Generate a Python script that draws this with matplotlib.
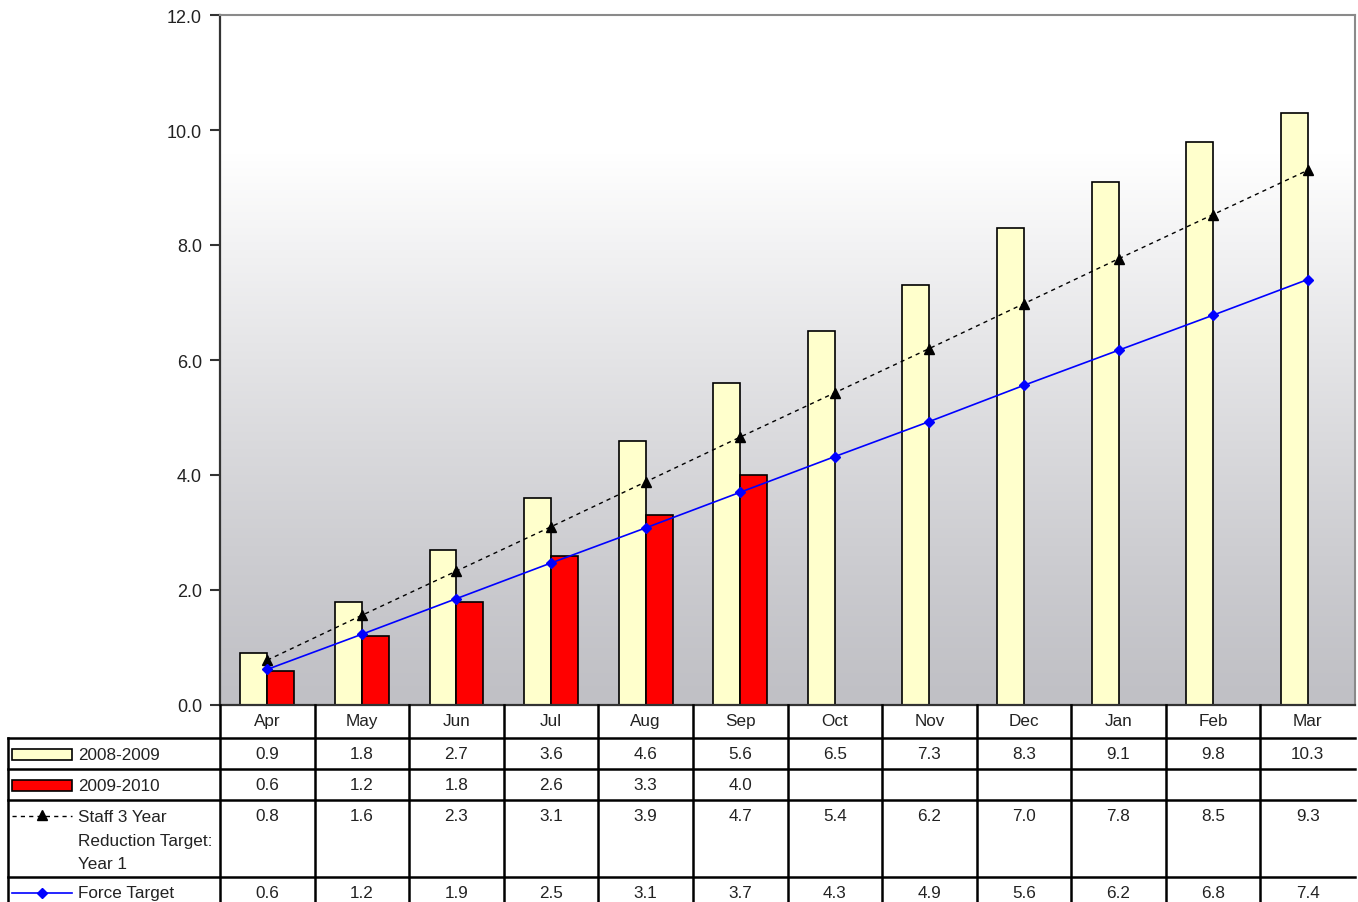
import numpy as np
import matplotlib
matplotlib.use("Agg")
import matplotlib.pyplot as plt
import matplotlib.transforms as mtransforms
from matplotlib.patches import Rectangle

plt.rcParams['font.family'] = ['Liberation Sans', 'DejaVu Sans']

# data
months = ["Apr", "May", "Jun", "Jul", "Aug", "Sep", "Oct", "Nov", "Dec", "Jan", "Feb", "Mar"]
y0809 = [0.9, 1.8, 2.7, 3.6, 4.6, 5.6, 6.5, 7.3, 8.3, 9.1, 9.8, 10.3]
y0910 = [0.6, 1.2, 1.8, 2.6, 3.3, 4.0]
staff = [0.78, 1.56, 2.33, 3.1, 3.88, 4.66, 5.43, 6.2, 6.98, 7.76, 8.53, 9.3]
force = [0.62, 1.23, 1.85, 2.47, 3.08, 3.7, 4.32, 4.93, 5.56, 6.17, 6.78, 7.4]

W, H = 1358, 903
fig = plt.figure(figsize=(W / 100, H / 100), dpi=100)
fig.patch.set_facecolor("white")

# plot area in pixels: x 220..1355, y 16..706
ax = fig.add_axes([220 / W, 1 - 706 / H, 1135 / W, 690 / H])
x = np.arange(len(months))
bw = 0.285

# gradient background (grey at bottom -> white near top)
t = np.linspace(0, 1, 256).reshape(-1, 1)
grad = np.clip(t / 0.8, 0, 1) ** 1.2
top = np.array([1.0, 1.0, 1.0])
bot = np.array([192, 192, 197]) / 255
img = bot + (top - bot) * grad[:, :, None]
ax.imshow(img, extent=(-0.5, 11.5, 0, 12), origin="lower", aspect="auto", zorder=0)
ax.set_xlim(-0.5, 11.5)
ax.set_ylim(0, 12)

ax.bar(x - bw / 2, y0809, bw, color="#FFFFCC", edgecolor="black", linewidth=1.2, zorder=2)
ax.bar(x[:len(y0910)] + bw / 2, y0910, bw, color="#FF0000", edgecolor="black", linewidth=1.2, zorder=2)
ax.plot(x, staff, color="black", linestyle=(0, (3, 3)), linewidth=1, marker="^",
        markersize=7, zorder=3)
ax.plot(x, force, color="#0000FF", linewidth=1.2, marker="D", markersize=5, zorder=4)

ax.set_yticks(np.arange(0, 12.1, 2))
ax.set_yticklabels(["%.1f" % v for v in np.arange(0, 12.1, 2)], fontsize=13, color="#222222")
ax.set_xticks([])
ax.tick_params(axis="y", direction="out", length=7, width=1.5, color="#333333", pad=6)
for s in ["left", "bottom"]:
    ax.spines[s].set_color("#333333")
    ax.spines[s].set_linewidth(1.6)
for s in ["top", "right"]:
    ax.spines[s].set_color("#8a8a8a")
    ax.spines[s].set_linewidth(1.5)

# data table below the plot, y in pixel rows
tab = fig.add_axes([0, 0, 1, 1 - 706 / H])
tab.set_xlim(0, W)
tab.set_ylim(H, 706)
tab.axis("off")
trans = mtransforms.blended_transform_factory(ax.transData, tab.transData)

lc = "black"
lw = 1.8
# horizontal row lines
for yy in [739, 770, 801, 878]:
    tab.plot([8, 1355], [yy, yy], color=lc, lw=lw, clip_on=False)
# vertical lines
tab.plot([8, 8], [739, 903], color=lc, lw=lw, clip_on=False)
for i in range(12):
    tab.plot([i - 0.5, i - 0.5], [706, 903], color=lc, lw=lw, transform=trans, clip_on=False)

fs = 12.3
tc = "#222222"
for i, m in enumerate(months):
    tab.text(i, 722, m, ha="center", va="center", fontsize=fs, color=tc, transform=trans)
    tab.text(i, 755, "%.1f" % y0809[i], ha="center", va="center", fontsize=fs, color=tc, transform=trans)
    if i < len(y0910):
        tab.text(i, 786, "%.1f" % y0910[i], ha="center", va="center", fontsize=fs, color=tc, transform=trans)
    tab.text(i, 817, "%.1f" % staff[i], ha="center", va="center", fontsize=fs, color=tc, transform=trans)
    tab.text(i, 894, "%.1f" % force[i], ha="center", va="center", fontsize=fs, color=tc, transform=trans)

# legend keys in the label column
tab.add_patch(Rectangle((12, 750), 60, 11, facecolor="#FFFFCC", edgecolor="black", lw=1.2))
tab.add_patch(Rectangle((12, 781), 60, 11, facecolor="#FF0000", edgecolor="black", lw=1.2))
tab.plot([12, 72], [817, 817], color="black", linestyle=(0, (3, 3)), lw=1)
tab.plot([42], [816], marker="^", color="black", markersize=7)
tab.plot([12, 72], [894, 894], color="#0000FF", lw=1.2)
tab.plot([42], [894], marker="D", color="#0000FF", markersize=5)

tab.text(78, 756, "2008-2009", ha="left", va="center", fontsize=fs, color=tc)
tab.text(78, 787, "2009-2010", ha="left", va="center", fontsize=fs, color=tc)
for k, line in enumerate(["Staff 3 Year", "Reduction Target:", "Year 1"]):
    tab.text(78, 818 + k * 23.5, line, ha="left", va="center", fontsize=fs, color=tc)
tab.text(78, 894, "Force Target", ha="left", va="center", fontsize=fs, color=tc)

fig.savefig("out.png", dpi=100)
